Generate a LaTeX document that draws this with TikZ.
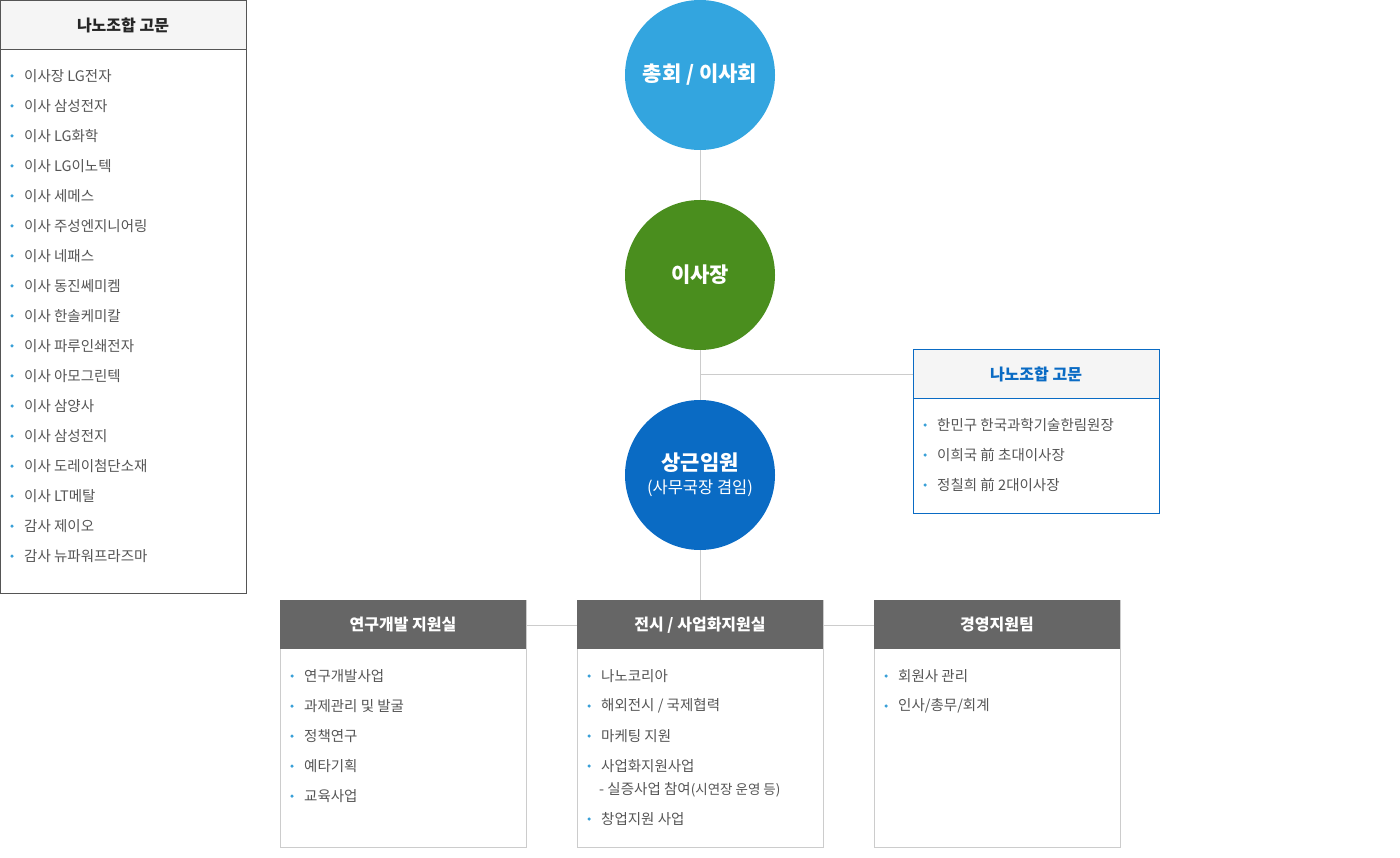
\documentclass[tikz,border=0pt]{standalone}
\usepackage{fontspec}
\setmainfont{Noto Sans CJK KR}
\definecolor{c1}{HTML}{33A5DF}
\definecolor{c2}{HTML}{4A8E1E}
\definecolor{c3}{HTML}{0A6BC4}
\definecolor{bl}{HTML}{3AA0D8}
\definecolor{ln}{HTML}{CCCCCC}
\definecolor{bd}{HTML}{555555}
\definecolor{hd}{HTML}{666666}
\definecolor{tx}{HTML}{555555}
\begin{document}
\begin{tikzpicture}[x=1pt,y=-1pt,
  circ/.style={circle,minimum size=150pt,inner sep=0pt,text=white,font=\fontsize{21}{26}\selectfont\bfseries,align=center},
  item/.style={anchor=west,inner sep=0pt,text=tx,font=\fontsize{14.5}{17}\selectfont},
  dot/.style={fill=bl,circle,inner sep=0pt,minimum size=3.5pt},
  conn/.style={draw=ln,line width=0.8pt}]
\useasboundingbox (0,0) rectangle (1400,858);
% connectors
\coordinate (j1) at (700,374);
\draw[conn] (700,150) -- (700,600);
\draw[conn] (j1) -- (913,374);
\draw[conn] (526,625) -- (577,625);
\draw[conn] (823,625) -- (874,625);
% circles
\node[circ,fill=c1] (a) at (700,75) {총회 / 이사회};
\node[circ,fill=c2] (b) at (700,275) {이사장};
\node[circ,fill=c3] (c) at (700,475) {};
\node[text=white,font=\fontsize{21}{26}\selectfont\bfseries] (c1t) at (700,463) {상근임원};
\node[text=white,font=\fontsize{16.5}{20}\selectfont] (c2t) at (700,488) {(사무국장 겸임)};
% left box
\draw[draw=bd,fill=white] (0.5,0.5) rectangle (246,593);
\draw[draw=bd,fill=gray!8] (0.5,0.5) rectangle (246,49);
\node[font=\fontsize{16}{20}\selectfont\bfseries,text=black!85] (lt) at (123,25) {나노조합 고문};
\foreach \t [count=\i] in {이사장 LG전자,이사 삼성전자,이사 LG화학,이사 LG이노텍,이사 세메스,이사 주성엔지니어링,이사 네패스,이사 동진쎄미켐,이사 한솔케미칼,이사 파루인쇄전자,이사 아모그린텍,이사 삼양사,이사 삼성전지,이사 도레이첨단소재,이사 LT메탈,감사 제이오,감사 뉴파워프라즈마}{
  \node[dot] (ld\i) at (12,{46+30*\i}) {};
  \node[item] (li\i) at (24,{46+30*\i}) {\t};
}
% right box
\draw[draw=c3,fill=white] (913,349.5) rectangle (1159,513);
\draw[draw=c3,fill=gray!8] (913,349.5) rectangle (1159,398);
\node[font=\fontsize{16}{20}\selectfont\bfseries,text=c3] (rt) at (1036,374) {나노조합 고문};
\foreach \t [count=\i] in {한민구 한국과학기술한림원장,이희국 前 초대이사장,정칠희 前 2대이사장}{
  \node[dot] (rd\i) at (925,{395+30*\i}) {};
  \node[item] (ri\i) at (937,{395+30*\i}) {\t};
}
% bottom boxes
\foreach \x/\n/\t in {280/p/{연구개발 지원실},577/q/{전시 / 사업화지원실},874/r/{경영지원팀}}{
  \draw[draw=ln,fill=white] (\x,600) rectangle (\x+246,847);
  \fill[hd] (\x,600) rectangle (\x+246,649);
  \node[text=white,font=\fontsize{16}{20}\selectfont\bfseries] (\n) at (\x+123,625) {\t};
}
\foreach \t [count=\i] in {연구개발사업,과제관리 및 발굴,정책연구,예타기획,교육사업}{
  \node[dot] (pd\i) at (292,{646+30*\i}) {};
  \node[item] (pi\i) at (304,{646+30*\i}) {\t};
}
\foreach \y/\t [count=\i] in {676/{나노코리아},706/{해외전시 / 국제협력},736/{마케팅 지원},766/{사업화지원사업},819/{창업지원 사업}}{
  \node[dot] (qd\i) at (589,\y) {};
  \node[item] (qi\i) at (601,\y) {\t};
}
\node[item] (qx) at (599,790) {- 실증사업 참여{\fontsize{13.5}{16}\selectfont(시연장 운영 등)}};
\foreach \t [count=\i] in {회원사 관리,인사/총무/회계}{
  \node[dot] (sd\i) at (886,{646+30*\i}) {};
  \node[item] (si\i) at (898,{646+30*\i}) {\t};
}
\end{tikzpicture}
\end{document}
